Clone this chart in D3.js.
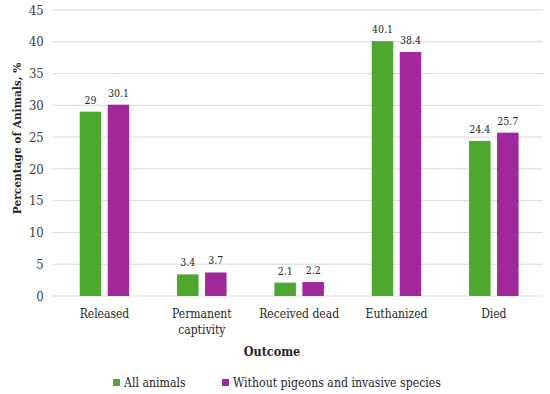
<!DOCTYPE html>
<html><head><meta charset="utf-8">
<script src="https://cdn.jsdelivr.net/npm/d3@7"></script>
<style>body{margin:0;background:#fff}svg{display:block}text{font-family:"DejaVu Serif",serif;font-stretch:condensed}</style>
</head><body><svg id="c" width="550" height="394"></svg>
<script>
const categories = [["Released"],["Permanent","captivity"],["Received dead"],["Euthanized"],["Died"]];
const seriesNames = ["All animals","Without pigeons and invasive species"];
const allAnimals = [29,3.4,2.1,40.1,24.4];
const withoutPigeons = [30.1,3.7,2.2,38.4,25.7];
const yTicks = [0,5,10,15,20,25,30,35,40,45];
const colors = ["#4ea72e","#a0289a"];

const svg = d3.select("#c");
const L=55.8, R=542.5, T=10, B=296;
const x = d3.scaleBand().domain(d3.range(categories.length)).range([L,R]);
const y = d3.scaleLinear().domain([0,45]).range([B,T]);
const series=[allAnimals,withoutPigeons];
const bw=21.5, gap=6.5;
const FF="'DejaVu Serif',serif";

svg.append("g").selectAll("line").data(yTicks).join("line")
  .attr("x1",L-3).attr("x2",R).attr("y1",d=>y(d)).attr("y2",d=>y(d))
  .attr("stroke","#d9d9d9").attr("stroke-width",1);

const yAxis = svg.append("g").attr("transform",`translate(${L-3},0)`)
  .call(d3.axisLeft(y).tickValues(yTicks).tickSize(0).tickPadding(9));
yAxis.select(".domain").remove();
yAxis.selectAll("text").attr("font-size",13).attr("fill","#404040").style("font-family",FF);

series.forEach((s,si)=>{
  const g=svg.append("g");
  g.selectAll("rect").data(s).join("rect")
    .attr("x",(d,i)=>x(i)+x.bandwidth()/2+(si===0?-(bw+gap/2):gap/2))
    .attr("y",d=>y(d)).attr("width",bw).attr("height",d=>B-y(d))
    .attr("fill",colors[si]);
  g.selectAll("text").data(s).join("text")
    .attr("x",(d,i)=>x(i)+x.bandwidth()/2+(si===0?-(bw/2+gap/2):gap/2+bw/2))
    .attr("y",d=>y(d)-8).attr("text-anchor","middle")
    .attr("font-size",10.5).attr("fill","#262626").text(d=>d);
});

categories.forEach((c,i)=>{
  const t=svg.append("text").attr("x",x(i)+x.bandwidth()/2).attr("y",318)
    .attr("text-anchor","middle").attr("font-size",12).attr("fill","#262626");
  c.forEach((line,k)=>t.append("tspan").attr("x",x(i)+x.bandwidth()/2).attr("dy",k?16:0).text(line));
});

svg.append("text").attr("x",272).attr("y",356).attr("text-anchor","middle")
  .attr("font-size",12.5).attr("font-weight","bold").attr("fill","#262626").text("Outcome");
svg.append("text").attr("transform","translate(21,138.5) rotate(-90)").attr("text-anchor","middle")
  .attr("font-size",11.8).attr("font-weight","bold").attr("fill","#262626").text("Percentage of Animals, %");

const lx=[113,222];
seriesNames.forEach((n,i)=>{
  svg.append("rect").attr("x",lx[i]).attr("y",379).attr("width",7).attr("height",7).attr("fill",colors[i]);
  svg.append("text").attr("x",lx[i]+11).attr("y",387).attr("font-size",12.2).attr("fill","#262626").text(n);
});
</script></body></html>
